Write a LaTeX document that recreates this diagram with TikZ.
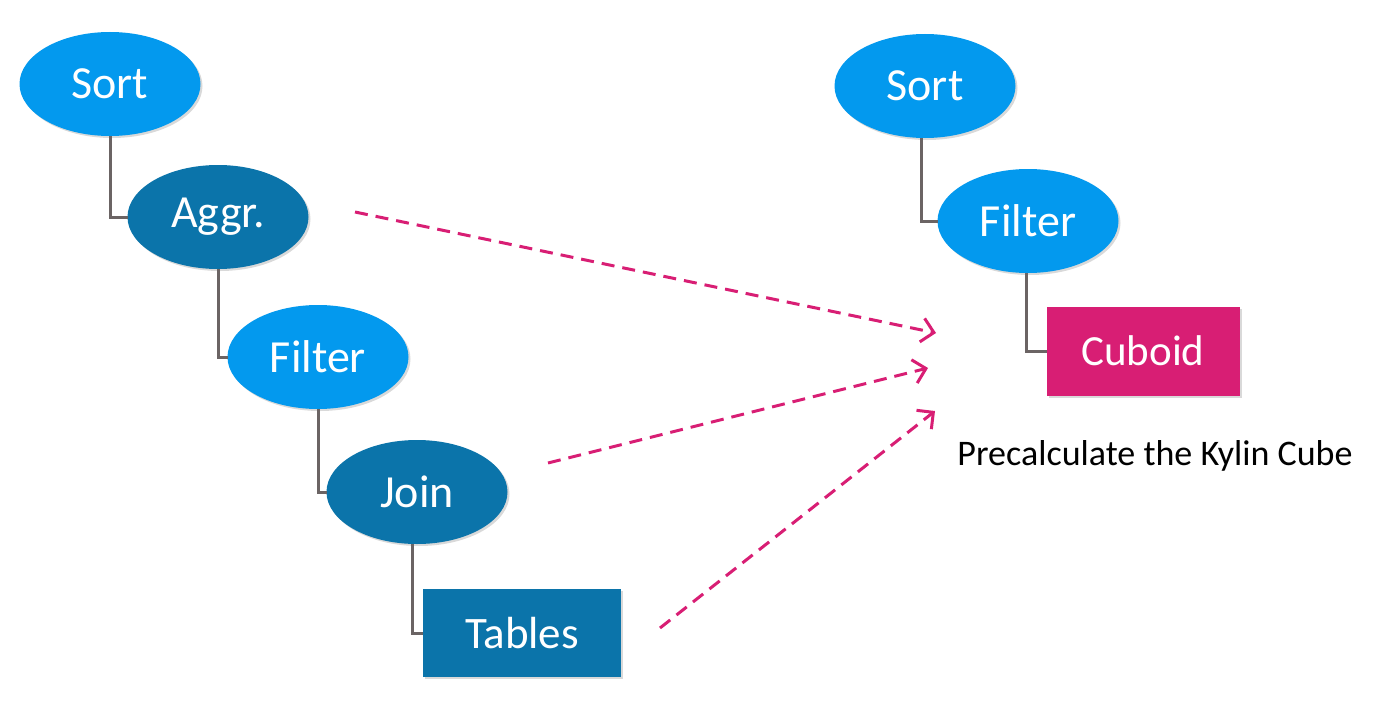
\documentclass[tikz,border=0pt]{standalone}
\usepackage{fontspec}
\setmainfont{Carlito}
\usetikzlibrary{shapes.geometric,arrows.meta,shadows}
\definecolor{lightblue}{HTML}{0399EE}
\definecolor{darkblue}{HTML}{0B74AA}
\definecolor{cuboidpink}{HTML}{D81E74}
\definecolor{linkgray}{HTML}{6B6464}
\definecolor{arrowpink}{HTML}{D81E74}
\begin{document}
\begin{tikzpicture}[x=1pt,y=-1pt,
  shade/.style={drop shadow={opacity=0.3,shadow xshift=2pt,shadow yshift=-2pt}},
  oval/.style={ellipse,minimum width=181pt,minimum height=104pt,inner sep=0pt,outer sep=0pt,
    text=white,font=\fontsize{46}{50}\selectfont,shade},
  lightoval/.style={oval,fill=lightblue},
  darkoval/.style={oval,fill=darkblue},
  box/.style={rectangle,inner sep=0pt,outer sep=0pt,text=white,shade},
  link/.style={draw=linkgray,line width=3pt},
  flow/.style={draw=arrowpink,line width=3pt,dash pattern=on 13pt off 8pt,
    -{Straight Barb[length=12pt,width=24pt,line width=3pt]}}
]
\useasboundingbox (0,0) rectangle (1373,701);
% left tree
\node[lightoval] (sortL) at (110,84) {Sort};
\node[darkoval] (aggr) at (218,217) {Aggr.};
\node[lightoval] (filterL) at (318,357) {Filter};
\node[darkoval] (join) at (417,492) {Join};
\node[box,fill=darkblue,minimum width=198pt,minimum height=88pt,font=\fontsize{45}{48}\selectfont] (tables) at (522,633) {Tables};
\draw[link] (sortL.south) |- (aggr.west);
\draw[link] (aggr.south) |- (filterL.west);
\draw[link] (filterL.south) |- (join.west);
\draw[link] ([xshift=-5pt]join.south) |- (tables.west);
% right tree
\node[lightoval] (sortR) at (925,86) {Sort};
\node[lightoval] (filterR) at (1028,221) {Filter};
\node[box,fill=cuboidpink,minimum width=193pt,minimum height=89pt,font=\fontsize{43}{46}\selectfont] (cuboid) at (1143,351) {Cuboid};
\draw[link] ([xshift=-4pt]sortR.south) |- (filterR.west);
\draw[link] ([xshift=-2pt]filterR.south) |- (cuboid.west);
\node[font=\fontsize{36}{40}\selectfont,inner sep=0pt] (caption) at (1155,456) {Precalculate the Kylin Cube};
% arrows
\coordinate (a1s) at (355,212);
\coordinate (a1e) at (936,333);
\coordinate (a2s) at (548,463);
\coordinate (a2e) at (928,368);
\coordinate (a3s) at (660,628);
\coordinate (a3e) at (935,411);
\draw[flow] (a1s) -- (a1e);
\draw[flow] (a2s) -- (a2e);
\draw[flow] (a3s) -- (a3e);
\end{tikzpicture}
\end{document}
